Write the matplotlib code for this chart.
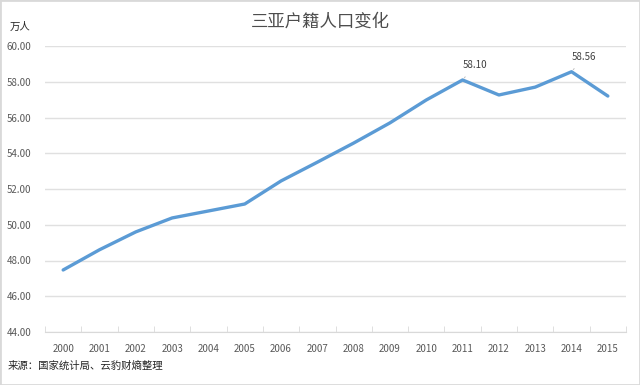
import matplotlib.pyplot as plt
from matplotlib.patches import Rectangle

plt.rcParams['font.family'] = ['Noto Sans CJK SC', 'DejaVu Sans']

# data
years = [str(y) for y in range(2000, 2016)]
population = [47.47, 48.6, 49.6, 50.38, 50.77, 51.16, 52.45, 53.5,
              54.57, 55.7, 56.98, 58.10, 57.26, 57.7, 58.56, 57.2]
labelled = {11: "58.10", 14: "58.56"}
yticks = [44, 46, 48, 50, 52, 54, 56, 58, 60]

fig = plt.figure(figsize=(6.4, 3.85), dpi=100)
fig.patches.append(Rectangle((0, 0), 1, 1, transform=fig.transFigure,
                             fill=False, edgecolor="#d9d9d9", linewidth=2))
ax = fig.add_axes([45 / 640, 1 - 332 / 385, (626 - 45) / 640, (332 - 46) / 385])

x = list(range(len(years)))
ax.plot(x, population, color="#5b9bd5", linewidth=2.4, solid_capstyle="round", zorder=3)

ax.set_xlim(-0.5, len(years) - 0.5)
ax.set_ylim(44, 60)
ax.set_yticks(yticks)
ax.set_yticklabels(["%.2f" % v for v in yticks])
ax.set_xticks(x)
ax.set_xticklabels(years)
ax.set_xticks([i - 0.5 for i in range(len(years) + 1)], minor=True)
ax.tick_params(axis="x", which="major", length=0, pad=9, labelsize=7, colors="#595959")
ax.tick_params(axis="x", which="minor", length=4, color="#d9d9d9", direction="in")
ax.tick_params(axis="y", length=0, pad=10, labelsize=7, colors="#595959")
ax.grid(axis="y", color="#e0e0e0", linewidth=1)
ax.set_axisbelow(True)
for s in ["top", "right", "left"]:
    ax.spines[s].set_visible(False)
ax.spines["bottom"].set_color("#d9d9d9")

for i, txt in labelled.items():
    ax.annotate(txt, xy=(i, population[i]), xytext=(i + 0.35, population[i] + 0.85),
                fontsize=7, color="#404040", ha="center", va="center",
                arrowprops=dict(arrowstyle="-", color="#bfbfbf", linewidth=0.7,
                                shrinkA=4, shrinkB=2))

fig.text(0.5, 1 - 22 / 385, "三亚户籍人口变化", ha="center", va="center",
         fontsize=12.5, color="#4d4d4d")
fig.text(20 / 640, 1 - 27 / 385, "万人", ha="center", va="center",
         fontsize=7.5, color="#262626")
fig.text(8 / 640, 1 - 366 / 385, "来源：国家统计局、云豹财熵整理", ha="left", va="center",
         fontsize=7.5, color="#262626")

fig.savefig("out.png", dpi=100)
